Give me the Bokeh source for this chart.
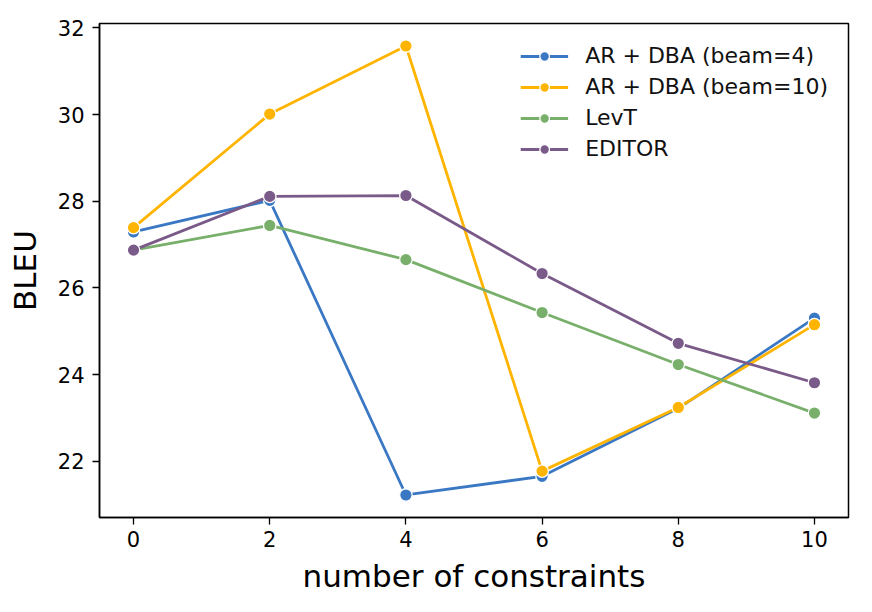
from bokeh.plotting import figure
from bokeh.embed import file_html
from bokeh.resources import INLINE
from bokeh.models import FixedTicker, Range1d, Legend, LegendItem

x_vals = [0, 2, 4, 6, 8, 10]
beam4 = [27.29, 28.02, 21.22, 21.65, 23.22, 25.30]
beam10 = [27.39, 30.01, 31.58, 21.77, 23.24, 25.15]
levt = [26.87, 27.44, 26.65, 25.43, 24.23, 23.11]
editor = [26.87, 28.11, 28.13, 26.33, 24.72, 23.81]
y_ticks = [22, 24, 26, 28, 30, 32]

names = ["AR + DBA (beam=4)", "AR + DBA (beam=10)", "LevT", "EDITOR"]
series = [beam4, beam10, levt, editor]
colors = ["#3a78c4", "#ffb400", "#78b06b", "#7a5a88"]

FONT = "DejaVu Sans"

p = figure(width=856, height=596, output_backend="svg", toolbar_location=None,
           x_range=Range1d(-0.5, 10.5), y_range=Range1d(20.70, 32.10),
           min_border_left=99, min_border_right=8, min_border_top=23, min_border_bottom=77)
p.background_fill_color = "white"
p.border_fill_color = "white"
p.outline_line_color = "black"
p.outline_line_width = 1.5
p.grid.visible = False

items = []
for name, ys, c in zip(names, series, colors):
    r1 = p.line(x_vals, ys, line_color=c, line_width=2.8)
    r2 = p.scatter(x_vals, ys, size=12.5, fill_color=c, line_color="white", line_width=1.3)
    items.append(LegendItem(label=name, renderers=[r1, r2]))

legend = Legend(items=items, location="top_right")
legend.border_line_color = None
legend.background_fill_alpha = 0
legend.label_text_font = FONT
legend.label_text_font_size = "22px"
legend.label_text_color = "#111111"
legend.glyph_width = 48
legend.glyph_height = 24
legend.label_height = 24
legend.spacing = 6
legend.padding = 9
legend.margin = 20
legend.label_standoff = 17
p.add_layout(legend)

p.xaxis.ticker = FixedTicker(ticks=x_vals)
p.yaxis.ticker = FixedTicker(ticks=y_ticks)
for ax in (p.xaxis, p.yaxis):
    ax.major_label_text_font = FONT
    ax.major_label_text_font_size = "21px"
    ax.major_label_text_color = "black"
    ax.axis_label_text_font = FONT
    ax.axis_label_text_font_size = "31px"
    ax.axis_label_text_font_style = "normal"
    ax.axis_label_text_color = "black"
    ax.minor_tick_line_color = None
    ax.major_tick_out = 7
    ax.major_tick_in = 0
    ax.major_tick_line_width = 1.3
    ax.axis_line_width = 1.5
p.xaxis.axis_label = "number of constraints"
p.yaxis.axis_label = "BLEU"
p.xaxis.major_label_standoff = 6
p.yaxis.major_label_standoff = 8
p.xaxis.axis_label_standoff = 8
p.yaxis.axis_label_standoff = 12

open("out.html", "w").write(file_html(p, INLINE))
